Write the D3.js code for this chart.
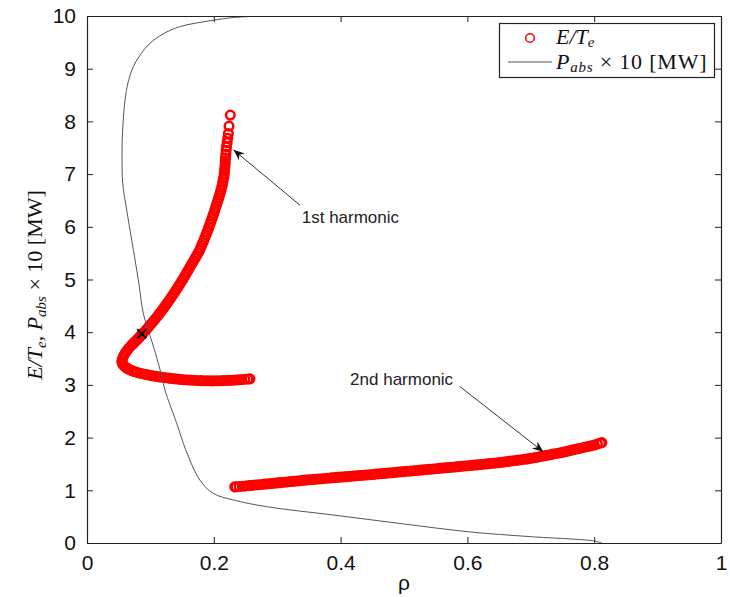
<!DOCTYPE html>
<html><head><meta charset="utf-8">
<script src="https://cdn.jsdelivr.net/npm/d3@7"></script>
<style>body{margin:0;background:#fff}svg{display:block}</style>
</head><body><svg id="c" width="730" height="597"></svg>
<script>
// ---- data ----
const xTicks = [0, 0.2, 0.4, 0.6, 0.8, 1];
const xTickLabels = ["0", "0.2", "0.4", "0.6", "0.8", "1"];
const yTicks = [0, 1, 2, 3, 4, 5, 6, 7, 8, 9, 10];
const yTickLabels = ["0", "1", "2", "3", "4", "5", "6", "7", "8", "9", "10"];

// E/Te, 1st harmonic branch  [rho, value]
const firstHarmonic = [
 [0.226,8.12],[0.224,7.91],[0.223,7.77],[0.222,7.68],[0.221,7.60],[0.220,7.52],[0.2195,7.45],[0.219,7.38],
 [0.2185,7.31],[0.218,7.25],[0.218,7.19],[0.2175,7.13],[0.217,7.07],[0.2165,7.01],
 [0.216,6.95],[0.215,6.90],[0.2143,6.85],[0.2135,6.80],[0.2125,6.75],[0.2115,6.70],[0.2103,6.65],[0.209,6.60],[0.2078,6.55],[0.2065,6.50],
 [0.2052,6.45],[0.2038,6.40],[0.2025,6.35],[0.2012,6.30],[0.1998,6.25],[0.1984,6.20],[0.197,6.15],[0.1955,6.10],[0.194,6.05],[0.1925,6.00],
 [0.191,5.95],[0.1894,5.90],[0.1878,5.85],[0.1862,5.80],[0.1845,5.75],[0.1828,5.70],[0.181,5.65],[0.1792,5.60],[0.1775,5.55],[0.1751,5.50],
 [0.1727,5.45],[0.1703,5.40],[0.1679,5.35],[0.1655,5.30],[0.1631,5.25],[0.1607,5.20],[0.1583,5.15],[0.156,5.10],[0.1535,5.05],[0.151,5.00],
 [0.1484,4.95],[0.1458,4.90],[0.1432,4.85],[0.1405,4.80],[0.1378,4.75],[0.135,4.70],[0.1322,4.65],[0.1293,4.60],[0.1264,4.55],[0.1234,4.50],
 [0.1204,4.45],[0.1173,4.40],[0.1141,4.35],[0.1109,4.30],[0.1076,4.25],[0.1042,4.20],[0.1007,4.15],[0.0972,4.10],[0.0936,4.05],[0.0899,4.00],
 [0.088,3.975],[0.0861,3.95],[0.0842,3.925],[0.0823,3.90],[0.0804,3.875],[0.0785,3.85],[0.0762,3.825],[0.074,3.80],[0.072,3.775],[0.070,3.75],
 [0.0663,3.70],[0.063,3.65],[0.0602,3.60],[0.0578,3.55],[0.056,3.50],[0.055,3.45],
 [0.0553,3.42],[0.0565,3.39],[0.0585,3.36],[0.061,3.335],[0.064,3.31],[0.067,3.29],[0.0705,3.27],[0.0745,3.253],[0.079,3.238],
 [0.084,3.222],[0.089,3.208],[0.094,3.195],[0.099,3.183],[0.104,3.172],[0.109,3.162],[0.114,3.153],[0.119,3.144],[0.124,3.136],[0.129,3.128],
 [0.134,3.121],[0.139,3.115],[0.144,3.109],[0.149,3.103],[0.154,3.098],[0.159,3.094],[0.164,3.090],[0.169,3.087],[0.174,3.084],[0.179,3.081],
 [0.184,3.079],[0.189,3.078],[0.194,3.077],[0.199,3.077],[0.204,3.078],[0.209,3.079],[0.214,3.081],[0.219,3.083],[0.224,3.086],[0.229,3.089],
 [0.234,3.093],[0.239,3.097],[0.244,3.101],[0.249,3.106],[0.254,3.111],[0.257,3.114]
];

// E/Te, 2nd harmonic branch  [rho, value]
const secondHarmonic = [
 [0.233,1.065],[0.235,1.066],[0.240,1.072],[0.245,1.077],[0.250,1.083],[0.255,1.089],[0.260,1.094],[0.265,1.100],[0.270,1.105],[0.275,1.111],
 [0.280,1.117],[0.285,1.122],[0.290,1.128],[0.295,1.134],[0.300,1.140],[0.305,1.146],[0.310,1.152],[0.315,1.158],[0.320,1.164],[0.325,1.170],
 [0.330,1.176],[0.335,1.182],[0.340,1.188],[0.345,1.194],[0.350,1.200],[0.355,1.205],[0.360,1.210],[0.365,1.215],[0.370,1.220],[0.375,1.225],
 [0.380,1.230],[0.385,1.235],[0.390,1.240],[0.395,1.245],[0.400,1.250],[0.405,1.255],[0.410,1.260],[0.415,1.265],[0.420,1.270],[0.425,1.275],
 [0.430,1.280],[0.435,1.285],[0.440,1.290],[0.445,1.295],[0.450,1.300],[0.455,1.306],[0.460,1.311],[0.465,1.317],[0.470,1.322],[0.475,1.328],
 [0.480,1.333],[0.485,1.339],[0.490,1.344],[0.495,1.350],[0.500,1.355],[0.505,1.361],[0.510,1.366],[0.515,1.372],[0.520,1.377],[0.525,1.383],
 [0.530,1.388],[0.535,1.394],[0.540,1.399],[0.545,1.405],[0.550,1.410],[0.555,1.416],[0.560,1.421],[0.565,1.427],[0.570,1.432],[0.575,1.438],
 [0.580,1.443],[0.585,1.449],[0.590,1.454],[0.595,1.460],[0.600,1.465],[0.605,1.471],[0.610,1.477],[0.615,1.483],[0.620,1.489],[0.625,1.495],
 [0.630,1.501],[0.635,1.507],[0.640,1.513],[0.645,1.519],[0.650,1.525],[0.655,1.533],[0.660,1.541],[0.665,1.549],[0.670,1.557],[0.675,1.565],
 [0.680,1.573],[0.685,1.581],[0.690,1.589],[0.695,1.597],[0.700,1.605],[0.705,1.617],[0.710,1.628],[0.715,1.640],[0.720,1.651],[0.725,1.663],
 [0.730,1.674],[0.735,1.686],[0.740,1.697],[0.745,1.709],[0.750,1.720],[0.755,1.734],[0.760,1.748],[0.765,1.762],[0.770,1.776],[0.775,1.790],
 [0.780,1.804],[0.785,1.818],[0.790,1.832],[0.795,1.846],[0.800,1.860],[0.805,1.879],[0.810,1.898],[0.812,1.905]
];

// P_abs x 10 [MW]  [rho, value]
const pabs = [
 [0.257,9.99],[0.23,9.97],[0.2,9.92],[0.147,9.80],[0.12,9.66],[0.099,9.48],[0.085,9.28],[0.073,9.04],[0.065,8.75],
 [0.06,8.41],[0.056,7.78],[0.0553,7.3],[0.0563,6.83],[0.0626,6.32],[0.0705,5.75],[0.081,4.99],[0.0888,4.36],[0.0967,4.04],
 [0.108,3.6],[0.118,3.16],[0.123,2.90],[0.1415,2.27],[0.156,1.76],[0.178,1.195],[0.199,0.943],[0.231,0.816],[0.283,0.69],
 [0.389,0.53],[0.494,0.37],[0.604,0.21],[0.7,0.12],[0.799,0.04],[0.812,0.0]
];

// marked point (cross)
const crossPoint = [[0.0863, 3.97]];

// annotations: text anchor (rho,value), arrow tail and tip
const annotations = [
 {label: "1st harmonic", tx: 0.3387, ty: 6.07, anchor: "start", x0: 0.336, y0: 6.41, x1: 0.231, y1: 7.46},
 {label: "2nd harmonic", tx: 0.415, ty: 3.0, anchor: "start", x0: 0.588, y0: 2.97, x1: 0.7197, y1: 1.73}
];

// ---- layout ----
const W = 730, H = 597;
const m = {left: 87, top: 16, right: 9, bottom: 54};
const pw = W - m.left - m.right, ph = H - m.top - m.bottom;
const svg = d3.select("#c");
const x = d3.scaleLinear().domain([0, 1]).range([m.left, m.left + pw]);
const y = d3.scaleLinear().domain([0, 10]).range([m.top + ph, m.top]);

const axisColor = "#222";
const sans = "'Liberation Sans', Arial, Helvetica, sans-serif";
const serif = "'Liberation Serif', 'Times New Roman', serif";

// marker for arrows
const defs = svg.append("defs");
defs.append("marker").attr("id", "ah").attr("markerUnits", "userSpaceOnUse")
  .attr("viewBox", "-12 -6 14 12").attr("refX", 0).attr("refY", 0)
  .attr("markerWidth", 14).attr("markerHeight", 12).attr("orient", "auto")
  .append("path").attr("d", "M0,0 L-11,-4.5 L-7.5,0 L-11,4.5 Z").attr("fill", "#111");

// E/Te circles
const mr = 4.3, msw = 2.5;
const circ = svg.append("g").attr("fill", "none").attr("stroke", "#ff0000").attr("stroke-width", msw);
circ.selectAll("circle.h1").data(firstHarmonic).join("circle").attr("class", "h1")
  .attr("cx", d => x(d[0])).attr("cy", d => y(d[1])).attr("r", mr);
circ.selectAll("circle.h2").data(secondHarmonic).join("circle").attr("class", "h2")
  .attr("cx", d => x(d[0])).attr("cy", d => y(d[1])).attr("r", mr);

// P_abs line
const line = d3.line().x(d => x(d[0])).y(d => y(d[1])).curve(d3.curveCatmullRom.alpha(0.5));
svg.append("path").datum(pabs).attr("d", line).attr("fill", "none").attr("stroke", "#555").attr("stroke-width", 1);

// cross
const cs = 4.5;
svg.selectAll("path.cross").data(crossPoint).join("path").attr("class", "cross")
  .attr("d", d => `M${x(d[0]) - cs},${y(d[1]) - cs}L${x(d[0]) + cs},${y(d[1]) + cs}M${x(d[0]) - cs},${y(d[1]) + cs}L${x(d[0]) + cs},${y(d[1]) - cs}`)
  .attr("stroke", "#000").attr("stroke-width", 2).attr("fill", "none");

// axes (inward ticks on all four sides)
const tl = 6;
const gB = svg.append("g").attr("transform", `translate(0,${m.top + ph})`)
  .call(d3.axisBottom(x).tickValues(xTicks).tickFormat((d, i) => xTickLabels[i]).tickSizeInner(-tl).tickSizeOuter(0).tickPadding(12));
const gT = svg.append("g").attr("transform", `translate(0,${m.top})`)
  .call(d3.axisTop(x).tickValues(xTicks).tickFormat("").tickSizeInner(-tl).tickSizeOuter(0));
const gL = svg.append("g").attr("transform", `translate(${m.left},0)`)
  .call(d3.axisLeft(y).tickValues(yTicks).tickFormat((d, i) => yTickLabels[i]).tickSizeInner(-tl).tickSizeOuter(0).tickPadding(11));
const gR = svg.append("g").attr("transform", `translate(${m.left + pw},0)`)
  .call(d3.axisRight(y).tickValues(yTicks).tickFormat("").tickSizeInner(-tl).tickSizeOuter(0));
[gB, gT, gL, gR].forEach(g => {
  g.selectAll("path.domain").attr("stroke", axisColor).attr("stroke-width", 1.2);
  g.selectAll(".tick line").attr("stroke", axisColor).attr("stroke-width", 1);
  g.selectAll("text").attr("font-family", sans).attr("font-size", 21).attr("fill", "#111");
});

// annotations
annotations.forEach(a => {
  svg.append("line").attr("x1", x(a.x0)).attr("y1", y(a.y0)).attr("x2", x(a.x1)).attr("y2", y(a.y1))
    .attr("stroke", "#333").attr("stroke-width", 1).attr("marker-end", "url(#ah)");
  svg.append("text").attr("x", x(a.tx)).attr("y", y(a.ty)).attr("text-anchor", a.anchor)
    .attr("font-family", sans).attr("font-size", 17).attr("fill", "#222").text(a.label);
});

// x label
svg.append("text").attr("x", x(0.5)).attr("y", 590).attr("text-anchor", "middle")
  .attr("font-family", sans).attr("font-size", 21).attr("fill", "#111").text("ρ");

// y label
const yl = svg.append("text").attr("transform", `translate(42,285) rotate(-90)`)
  .attr("text-anchor", "middle").attr("font-family", serif).attr("font-size", 22).attr("fill", "#111");
yl.append("tspan").attr("font-style", "italic").text("E/T");
yl.append("tspan").attr("font-style", "italic").attr("font-size", 15).attr("dy", 4).text("e");
yl.append("tspan").attr("dy", -4).text(", ");
yl.append("tspan").attr("font-style", "italic").text("P");
yl.append("tspan").attr("font-style", "italic").attr("font-size", 15).attr("dy", 4).text("abs");
yl.append("tspan").attr("dy", -4).text(" × 10 [MW]");

// legend
const lg = svg.append("g");
lg.append("rect").attr("x", 499.5).attr("y", 23.5).attr("width", 215).attr("height", 54)
  .attr("fill", "#fff").attr("stroke", axisColor).attr("stroke-width", 1.2);
lg.append("circle").attr("cx", 530).attr("cy", 38).attr("r", 4.3).attr("fill", "none").attr("stroke", "#ff0000").attr("stroke-width", 1.5);
lg.append("line").attr("x1", 508).attr("x2", 552).attr("y1", 62).attr("y2", 62).attr("stroke", "#555").attr("stroke-width", 1);
const t1 = lg.append("text").attr("x", 556).attr("y", 44).attr("font-family", serif).attr("font-size", 22).attr("fill", "#111");
t1.append("tspan").attr("font-style", "italic").text("E/T");
t1.append("tspan").attr("font-style", "italic").attr("font-size", 15).attr("dy", 3).text("e");
const t2 = lg.append("text").attr("x", 556).attr("y", 69).attr("font-family", serif).attr("font-size", 22)
  .attr("letter-spacing", 0.8).attr("fill", "#111");
t2.append("tspan").attr("font-style", "italic").text("P");
t2.append("tspan").attr("font-style", "italic").attr("font-size", 15).attr("dy", 3).text("abs");
t2.append("tspan").attr("dy", -3).text(" × 10 [MW]");
</script></body></html>
